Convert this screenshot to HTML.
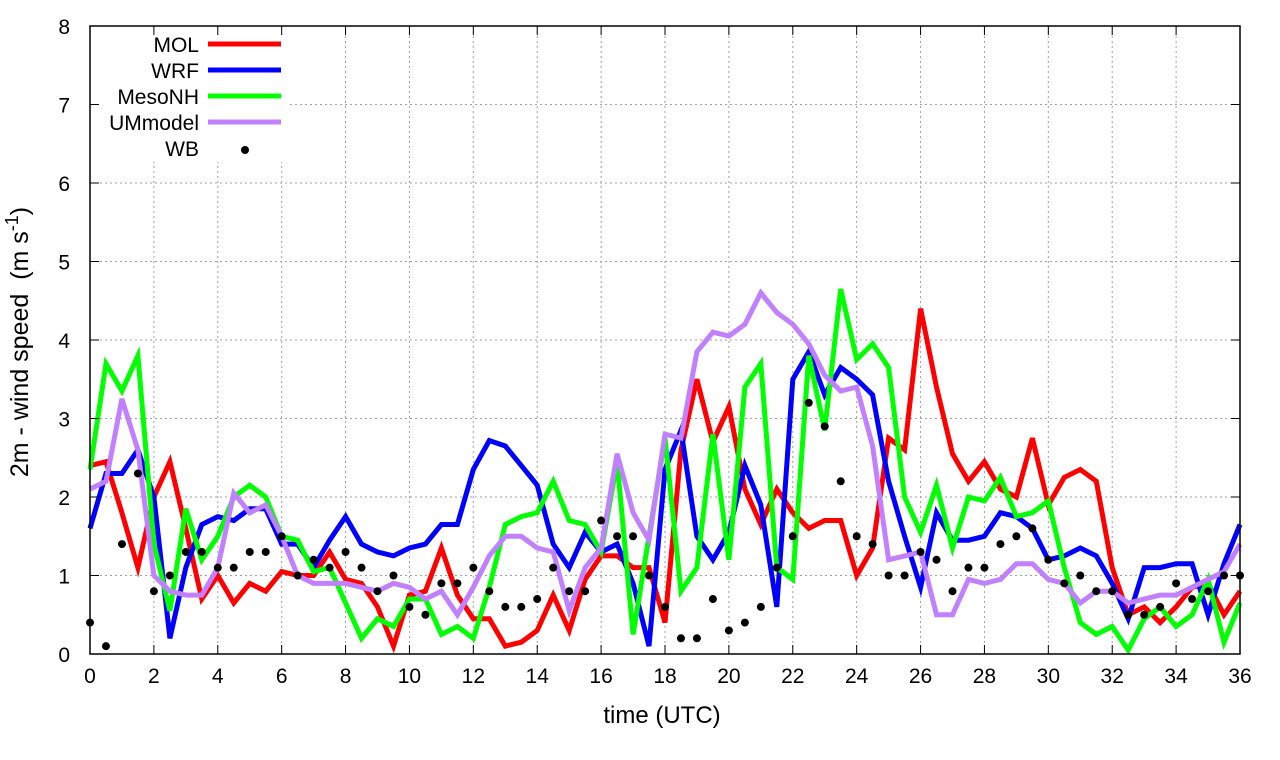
<!DOCTYPE html>
<html><head><meta charset="utf-8"><style>
body{margin:0;background:#fff;}
svg{display:block;font-family:"Liberation Sans",sans-serif;}
</style></head><body>
<svg id="chart" width="1280" height="760" xmlns="http://www.w3.org/2000/svg">
<g id="grid"></g>
<g id="series"></g>
<g id="axes"></g>
<g id="legend"></g>
<text x="662" y="723" font-size="24" text-anchor="middle">time (UTC)</text>
<text transform="translate(28,342) rotate(-90)" font-size="25" text-anchor="middle" style="white-space:pre">2m - wind speed  (m s<tspan dy="-10" font-size="18">-1</tspan><tspan dy="10">)</tspan></text>
</svg>
<script>
const xTicks=[0,2,4,6,8,10,12,14,16,18,20,22,24,26,28,30,32,34,36];
const yTicks=[0,1,2,3,4,5,6,7,8];
const seriesNames=["MOL","WRF","MesoNH","UMmodel"];
const seriesColors=["#ff0000","#0000ff","#00ff00","#c080ff"];
const mol=[2.4,2.45,1.8,1.1,2.0,2.45,1.6,0.7,1.0,0.65,0.9,0.8,1.05,1.0,1.0,1.3,0.95,0.9,0.6,0.1,0.75,0.8,1.35,0.75,0.45,0.45,0.1,0.15,0.3,0.75,0.3,0.95,1.25,1.25,1.1,1.1,0.4,2.6,3.5,2.7,3.15,2.1,1.65,2.1,1.8,1.6,1.7,1.7,1.0,1.35,2.75,2.6,4.4,3.4,2.55,2.2,2.45,2.1,2.0,2.75,1.9,2.25,2.35,2.2,1.1,0.5,0.6,0.4,0.6,0.85,0.9,0.5,0.8];
const wrf=[1.6,2.3,2.3,2.6,2.0,0.2,1.1,1.65,1.75,1.7,1.85,1.85,1.4,1.4,1.1,1.45,1.75,1.4,1.3,1.25,1.35,1.4,1.65,1.65,2.35,2.72,2.65,2.4,2.15,1.4,1.1,1.55,1.3,1.4,0.9,0.1,2.35,2.85,1.5,1.2,1.55,2.4,1.9,0.6,3.5,3.85,3.3,3.65,3.5,3.3,2.2,1.5,0.85,1.8,1.45,1.45,1.5,1.8,1.75,1.6,1.2,1.25,1.35,1.25,0.9,0.45,1.1,1.1,1.15,1.15,0.5,1.15,1.65];
const mesonh=[2.35,3.7,3.35,3.8,1.4,0.55,1.85,1.2,1.5,2.0,2.15,2.0,1.5,1.45,1.05,1.1,0.65,0.2,0.45,0.35,0.7,0.7,0.25,0.35,0.2,0.85,1.65,1.75,1.8,2.2,1.7,1.65,1.3,2.45,0.25,1.5,2.75,0.8,1.1,2.8,1.2,3.4,3.7,1.1,0.95,3.8,2.85,4.65,3.75,3.95,3.65,2.0,1.55,2.15,1.35,2.0,1.95,2.25,1.75,1.8,1.95,1.1,0.4,0.25,0.35,0.05,0.45,0.6,0.35,0.5,0.95,0.15,0.65];
const um=[2.1,2.2,3.25,2.6,1.0,0.8,0.75,0.75,1.1,2.05,1.8,1.9,1.5,1.0,0.9,0.9,0.9,0.85,0.8,0.9,0.85,0.7,0.8,0.5,0.85,1.25,1.5,1.5,1.35,1.3,0.55,1.1,1.35,2.55,1.8,1.45,2.8,2.75,3.85,4.1,4.05,4.2,4.6,4.35,4.2,3.95,3.55,3.35,3.4,2.65,1.2,1.25,1.3,0.5,0.5,0.95,0.9,0.95,1.15,1.15,0.95,0.9,0.65,0.8,0.8,0.65,0.7,0.75,0.75,0.85,0.95,1.05,1.4];
const wb=[0.4,0.1,1.4,2.3,0.8,1.0,1.3,1.3,1.1,1.1,1.3,1.3,1.5,1.0,1.2,1.1,1.3,1.1,0.8,1.0,0.6,0.5,0.9,0.9,1.1,0.8,0.6,0.6,0.7,1.1,0.8,0.8,1.7,1.5,1.5,1.0,0.6,0.2,0.2,0.7,0.3,0.4,0.6,1.1,1.5,3.2,2.9,2.2,1.5,1.4,1.0,1.0,1.3,1.2,0.8,1.1,1.1,1.4,1.5,1.6,1.2,0.9,1.0,0.8,0.8,0.5,0.5,0.6,0.9,0.7,0.8,1.0,1.0];

const L=90,R=1240,T=26,B=654;
const xs=t=>L+(R-L)*t/36;
const ys=v=>B-(B-T)*v/8;
const NS="http://www.w3.org/2000/svg";
function mk(tag,attrs,parent){const e=document.createElementNS(NS,tag);for(const k in attrs)e.setAttribute(k,attrs[k]);parent.appendChild(e);return e;}
const grid=document.getElementById('grid'),axes=document.getElementById('axes'),ser=document.getElementById('series'),leg=document.getElementById('legend');
xTicks.forEach(t=>{
 if(t>0&&t<36){const g=mk('line',{x1:xs(t),x2:xs(t),y1:T,y2:B,stroke:'#a0a0a0','stroke-dasharray':'2,3','stroke-width':1},grid);
 
 }
 mk('line',{x1:xs(t),x2:xs(t),y1:B,y2:B-9,stroke:'#000'},axes);
 mk('line',{x1:xs(t),x2:xs(t),y1:T,y2:T+9,stroke:'#000'},axes);
 const tx=mk('text',{x:xs(t),y:B+29,'font-size':21,'text-anchor':'middle'},axes);tx.textContent=t;
 
 
});
yTicks.forEach(v=>{
 if(v>0&&v<8){const g=mk('line',{x1:L,x2:R,y1:ys(v),y2:ys(v),stroke:'#a0a0a0','stroke-dasharray':'2,3','stroke-width':1},grid);
 
 }
 mk('line',{x1:L,x2:L+9,y1:ys(v),y2:ys(v),stroke:'#000'},axes);
 mk('line',{x1:R,x2:R-9,y1:ys(v),y2:ys(v),stroke:'#000'},axes);
 const tx=mk('text',{x:L-20,y:ys(v)+8,'font-size':21,'text-anchor':'end'},axes);tx.textContent=v;
 
 
});
mk('rect',{x:L,y:T,width:R-L,height:B-T,fill:'none',stroke:'#000','stroke-width':1.5},axes);
mk('rect',{x:92,y:28,width:196,height:134,fill:'#fff'},grid);
const data=[mol,wrf,mesonh,um];
data.forEach((arr,i)=>{
 const pts=arr.map((v,j)=>xs(j*0.5).toFixed(1)+','+ys(v).toFixed(1)).join(' ');
 const p=mk('polyline',{points:pts,fill:'none',stroke:seriesColors[i],'stroke-width':5,'stroke-linejoin':'miter'},ser);
 
 
});
wb.forEach((v,j)=>{
 const c=mk('circle',{cx:xs(j*0.5),cy:ys(v),r:4,fill:'#000'},ser);
 
 
});
const legNames=["MOL","WRF","MesoNH","UMmodel","WB"];
legNames.forEach((n,i)=>{
 const y=44+i*26;
 const t=mk('text',{x:199,y:y+8,'font-size':21,'text-anchor':'end'},leg);t.textContent=n;
 
 
 if(i<4){const l=mk('line',{x1:208,x2:281,y1:y,y2:y,stroke:seriesColors[i],'stroke-width':5},leg);
 
 }
 else{const c=mk('circle',{cx:245,cy:y+2,r:4,fill:'#000'},leg);
 
 }
});
</script>
</body></html>
